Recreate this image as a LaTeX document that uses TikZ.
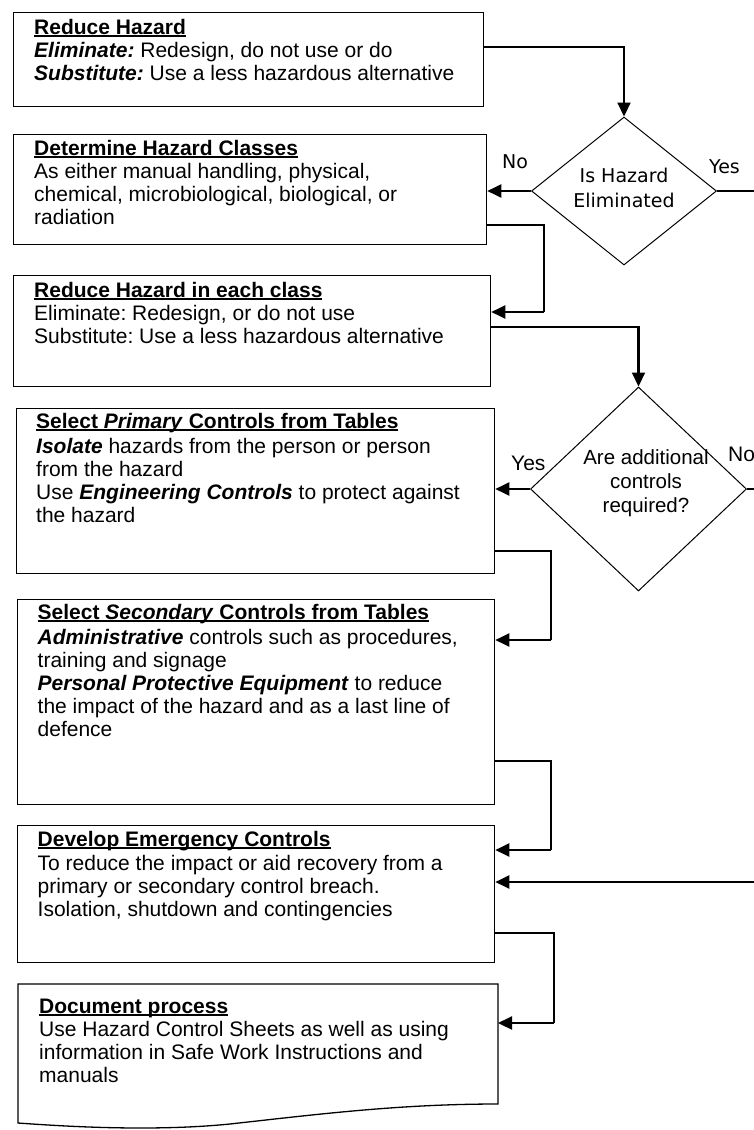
\documentclass[tikz,border=0pt]{standalone}
\usepackage{fontspec}
\setmainfont{Liberation Sans}
\newfontfamily\tahomalike{DejaVu Sans}
\usetikzlibrary{shapes.geometric,arrows.meta,calc}
\newcommand\ulx[1]{\leavevmode\setbox0\hbox{#1}\rlap{\rule[-3pt]{\wd0}{1.7pt}}\box0}
\newcommand\bi[1]{\textbf{\textit{#1}}}
\frenchspacing
\begin{document}
\begin{tikzpicture}[x=1pt,y=-1pt,
  font=\fontsize{21}{23}\selectfont\frenchspacing,
  box/.style={draw, line width=1.3pt, rectangle, inner sep=0pt, anchor=north west},
  dia/.style={draw, diamond, line width=1pt, inner sep=0pt},
  txt/.style={inner sep=0pt, anchor=base west},
  con/.style={line width=1.3pt},
  arr/.style={line width=2.1pt, -{Triangle[length=14pt,width=13pt]}},
  dlbl/.style={inner sep=0pt, anchor=base west, font=\tahomalike\fontsize{19}{25}\selectfont},
  albl/.style={inner sep=0pt, anchor=base west}]
\useasboundingbox (0,0) rectangle (754,1130);
\fill[white] (0,0) rectangle (754,1130);

% boxes
\node[box, minimum width=470pt, minimum height=94pt] (b1) at (13,12) {};
\node[box, minimum width=473pt, minimum height=110pt] (b2) at (13,134) {};
\node[box, minimum width=477pt, minimum height=111pt] (b3) at (13,275) {};
\node[box, minimum width=478pt, minimum height=165pt] (b4) at (16,408) {};
\node[box, minimum width=477pt, minimum height=205pt] (b5) at (17,599) {};
\node[box, minimum width=477pt, minimum height=137pt] (b6) at (17,825) {};
\coordinate (b7nw) at (18,984);
\coordinate (b7e) at (498,1023);
\draw[line width=1.3pt] (b7nw) -- (498,984) -- (498,1104)
  .. controls (400,1104) and (320,1114) .. (230,1124)
  .. controls (150,1132) and (60,1126) .. (18,1123) -- cycle;

% texts
\node[txt] (t1) at (34,34) {\parbox[t]{450pt}{\ulx{\textbf{Reduce Hazard}}\\
\bi{Eliminate:} Redesign, do not use or do\\
\bi{Substitute:} Use a less hazardous alternative}};
\node[txt] (t2) at (34,155) {\parbox[t]{450pt}{\ulx{\textbf{Determine Hazard Classes}}\\
As either manual handling, physical,\\
chemical, microbiological, biological, or\\
radiation}};
\node[txt] (t3) at (34,297) {\parbox[t]{450pt}{\ulx{\textbf{Reduce Hazard in each class}}\\
Eliminate: Redesign, or do not use\\
Substitute: Use a less hazardous alternative}};
\node[txt] (t4) at (36,428) {\parbox[t]{450pt}{\ulx{\textbf{Select \textit{Primary} Controls from Tables}}\\[2pt]
\bi{Isolate} hazards from the person or person\\
from the hazard\\
Use \bi{Engineering Controls} to protect against\\
the hazard}};
\node[txt] (t5) at (37.5,619) {\parbox[t]{450pt}{\ulx{\textbf{Select \textit{Secondary} Controls from Tables}}\\[2pt]
\bi{Administrative} controls such as procedures,\\
training and signage\\
\bi{Personal Protective Equipment} to reduce\\
the impact of the hazard and as a last line of\\
defence}};
\node[txt] (t6) at (37.5,846) {\parbox[t]{450pt}{\ulx{\textbf{Develop Emergency Controls}}\\[1pt]
To reduce the impact or aid recovery from a\\
primary or secondary control breach.\\
Isolation, shutdown and contingencies}};
\node[txt] (t7) at (39,1013) {\parbox[t]{450pt}{\ulx{\textbf{Document process}}\\
Use Hazard Control Sheets as well as using\\
information in Safe Work Instructions and\\
manuals}};

% diamonds
\node[dia, minimum width=185pt, minimum height=148pt] (d1) at (624,191) {};
\node[dia, minimum width=216pt, minimum height=204pt] (d2) at (638.5,489) {};
\node[inner sep=0pt, anchor=base, font=\tahomalike\fontsize{19}{25}\selectfont] (dt1) at (624,182)
  {\parbox[t]{150pt}{\centering Is Hazard\\Eliminated}};
\node[inner sep=0pt, anchor=base, font=\fontsize{20.5}{24}\selectfont] (dt2) at (646,464)
  {\parbox[t]{170pt}{\centering Are additional\\controls\\required?}};

% labels
\node[dlbl] (no1) at (502,168) {No};
\node[dlbl] (yes1) at (709,173) {Yes};
\node[albl] (yes2) at (511,470) {Yes};
\node[albl] (no2) at (728,461) {No};

% connectors
\coordinate (k0) at (624,47);
\draw[arr] (b1.north east |- k0) -| (d1.north);
\draw[arr] (d1.west) -- (d1.west -| b2.east);
\coordinate (e1) at (754,191);
\draw[line width=2pt] (d1.east) -- (e1);

\coordinate (k1) at (544,225);
\coordinate (k1b) at (544,312);
\draw[con] (b2.east |- k1) -- (k1) -- (k1b);
\draw[arr] (k1b) -- (k1b -| b3.east);

\coordinate (k2) at (638.5,327);
\draw[arr] (b3.east |- k2) -| (d2.north);

\draw[arr] (d2.west) -- (d2.west -| b4.east);
\coordinate (e2) at (754,489);
\draw[line width=2pt] (d2.east) -- (e2);

\coordinate (k3) at (551,551);
\coordinate (k3b) at (551,640);
\draw[con] (b4.east |- k3) -- (k3) -- (k3b);
\draw[arr] (k3b) -- (k3b -| b5.east);

\coordinate (k4) at (551,761);
\coordinate (k4b) at (551,850);
\draw[con] (b5.east |- k4) -- (k4) -- (k4b);
\draw[arr] (k4b) -- (k4b -| b6.east);

\coordinate (e3) at (754,882);
\draw[arr] (e3) -- (e3 -| b6.east);

\coordinate (k5) at (554,933);
\coordinate (k5b) at (554,1023);
\draw[con] (b6.east |- k5) -- (k5) -- (k5b);
\draw[arr] (k5b) -- (b7e);
\end{tikzpicture}
\end{document}
